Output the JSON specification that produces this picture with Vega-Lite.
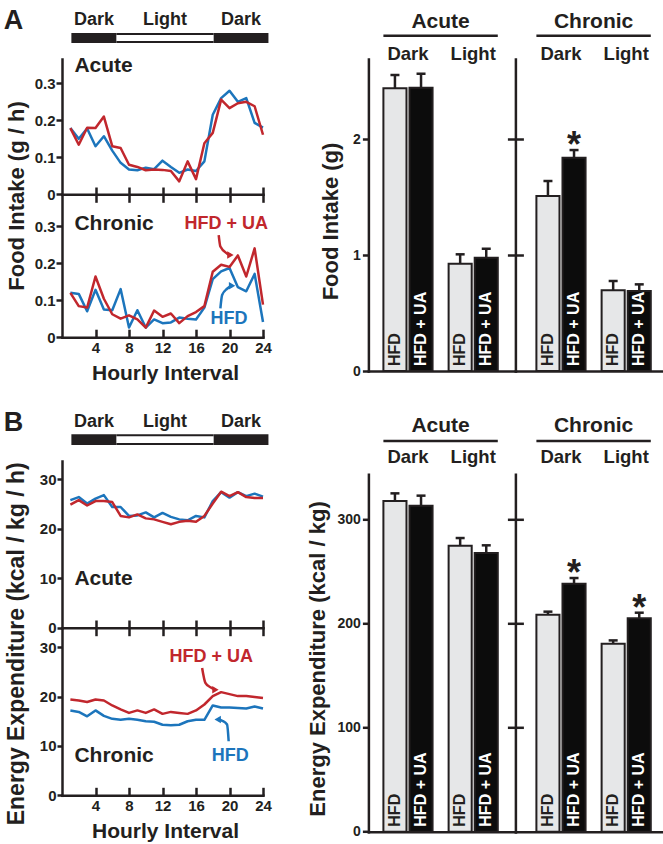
{
"$schema": "https://vega.github.io/schema/vega-lite/v6.json",
"background": "white",
"padding": {"left": 3, "top": 6, "right": 0, "bottom": 0},
"config": {
  "font": "Liberation Sans",
  "view": {"stroke": null},
  "axis": {"grid": false, "domainColor": "#231f20", "domainWidth": 2.5, "domainCap": "square", "tickColor": "#231f20", "tickWidth": 2.5, "labelColor": "#231f20", "labelFont": "Liberation Sans", "labelFontWeight": "bold", "labelFontSize": 15, "titleColor": "#231f20", "titleFont": "Liberation Sans", "titleFontWeight": "bold", "labelOverlap": false, "labelFlush": false},
  "text": {"font": "Liberation Sans", "fontWeight": "bold", "color": "#231f20"}
},
"datasets": {
  "strip": [
    {"phase": "Dark", "start": 1.12, "end": 6.5},
    {"phase": "Light", "start": 6.5, "end": 18.1},
    {"phase": "Dark", "start": 18.1, "end": 24.65}
  ],
  "arrows": [
    {"panel": "food", "group": "HFD + UA", "hour": 18.71, "value": 0.276, "tip": false},
    {"panel": "food", "group": "HFD + UA", "hour": 18.91, "value": 0.245, "tip": false},
    {"panel": "food", "group": "HFD + UA", "hour": 19.71, "value": 0.226, "tip": false},
    {"panel": "food", "group": "HFD + UA", "hour": 20.11, "value": 0.222, "tip": true},
    {"panel": "food", "group": "HFD", "hour": 18.91, "value": 0.078, "tip": false},
    {"panel": "food", "group": "HFD", "hour": 19.12, "value": 0.114, "tip": false},
    {"panel": "food", "group": "HFD", "hour": 19.71, "value": 0.131, "tip": false},
    {"panel": "food", "group": "HFD", "hour": 20.31, "value": 0.139, "tip": true},
    {"panel": "ee", "group": "HFD + UA", "hour": 16.73, "value": 25.8, "tip": false},
    {"panel": "ee", "group": "HFD + UA", "hour": 17.12, "value": 22.8, "tip": false},
    {"panel": "ee", "group": "HFD + UA", "hour": 17.72, "value": 21.9, "tip": false},
    {"panel": "ee", "group": "HFD + UA", "hour": 18.32, "value": 21.4, "tip": true},
    {"panel": "ee", "group": "HFD", "hour": 18.59, "value": 15.35, "tip": true},
    {"panel": "ee", "group": "HFD", "hour": 19.15, "value": 15.1, "tip": false},
    {"panel": "ee", "group": "HFD", "hour": 19.71, "value": 14.34, "tip": false},
    {"panel": "ee", "group": "HFD", "hour": 19.9, "value": 10.95, "tip": false}
  ],
  "bars": [
    {"metric": "food", "cond": "Acute", "period": "Dark", "group": "HFD", "mean": 2.437, "upper": 2.552, "sig": ""},
    {"metric": "food", "cond": "Acute", "period": "Dark", "group": "HFD + UA", "mean": 2.443, "upper": 2.563, "sig": ""},
    {"metric": "food", "cond": "Acute", "period": "Light", "group": "HFD", "mean": 0.925, "upper": 1.006, "sig": ""},
    {"metric": "food", "cond": "Acute", "period": "Light", "group": "HFD + UA", "mean": 0.977, "upper": 1.054, "sig": ""},
    {"metric": "food", "cond": "Chronic", "period": "Dark", "group": "HFD", "mean": 1.509, "upper": 1.638, "sig": ""},
    {"metric": "food", "cond": "Chronic", "period": "Dark", "group": "HFD + UA", "mean": 1.839, "upper": 1.905, "sig": "*"},
    {"metric": "food", "cond": "Chronic", "period": "Light", "group": "HFD", "mean": 0.696, "upper": 0.776, "sig": ""},
    {"metric": "food", "cond": "Chronic", "period": "Light", "group": "HFD + UA", "mean": 0.69, "upper": 0.747, "sig": ""},
    {"metric": "ee", "cond": "Acute", "period": "Dark", "group": "HFD", "mean": 317.5, "upper": 324.9, "sig": ""},
    {"metric": "ee", "cond": "Acute", "period": "Dark", "group": "HFD + UA", "mean": 313.1, "upper": 322.7, "sig": ""},
    {"metric": "ee", "cond": "Acute", "period": "Light", "group": "HFD", "mean": 274.6, "upper": 282.0, "sig": ""},
    {"metric": "ee", "cond": "Acute", "period": "Light", "group": "HFD + UA", "mean": 267.6, "upper": 275.0, "sig": ""},
    {"metric": "ee", "cond": "Chronic", "period": "Dark", "group": "HFD", "mean": 208.4, "upper": 211.3, "sig": ""},
    {"metric": "ee", "cond": "Chronic", "period": "Dark", "group": "HFD + UA", "mean": 238.2, "upper": 243.6, "sig": "*"},
    {"metric": "ee", "cond": "Chronic", "period": "Light", "group": "HFD", "mean": 180.5, "upper": 183.7, "sig": ""},
    {"metric": "ee", "cond": "Chronic", "period": "Light", "group": "HFD + UA", "mean": 204.9, "upper": 210.3, "sig": "*"}
  ],
  "lines": [
    {"metric":"food","cond":"Acute","group":"HFD","hour":1,"value":0.179},
    {"metric":"food","cond":"Acute","group":"HFD","hour":2,"value":0.15},
    {"metric":"food","cond":"Acute","group":"HFD","hour":3,"value":0.178},
    {"metric":"food","cond":"Acute","group":"HFD","hour":4,"value":0.13},
    {"metric":"food","cond":"Acute","group":"HFD","hour":5,"value":0.157},
    {"metric":"food","cond":"Acute","group":"HFD","hour":6,"value":0.118},
    {"metric":"food","cond":"Acute","group":"HFD","hour":7,"value":0.085},
    {"metric":"food","cond":"Acute","group":"HFD","hour":8,"value":0.067},
    {"metric":"food","cond":"Acute","group":"HFD","hour":9,"value":0.065},
    {"metric":"food","cond":"Acute","group":"HFD","hour":10,"value":0.072},
    {"metric":"food","cond":"Acute","group":"HFD","hour":11,"value":0.068},
    {"metric":"food","cond":"Acute","group":"HFD","hour":12,"value":0.091},
    {"metric":"food","cond":"Acute","group":"HFD","hour":13,"value":0.074},
    {"metric":"food","cond":"Acute","group":"HFD","hour":14,"value":0.058},
    {"metric":"food","cond":"Acute","group":"HFD","hour":15,"value":0.067},
    {"metric":"food","cond":"Acute","group":"HFD","hour":16,"value":0.063},
    {"metric":"food","cond":"Acute","group":"HFD","hour":17,"value":0.089},
    {"metric":"food","cond":"Acute","group":"HFD","hour":18,"value":0.215},
    {"metric":"food","cond":"Acute","group":"HFD","hour":19,"value":0.26},
    {"metric":"food","cond":"Acute","group":"HFD","hour":20,"value":0.28},
    {"metric":"food","cond":"Acute","group":"HFD","hour":21,"value":0.25},
    {"metric":"food","cond":"Acute","group":"HFD","hour":22,"value":0.26},
    {"metric":"food","cond":"Acute","group":"HFD","hour":23,"value":0.193},
    {"metric":"food","cond":"Acute","group":"HFD","hour":24,"value":0.18},
    {"metric":"food","cond":"Acute","group":"HFD + UA","hour":1,"value":0.179},
    {"metric":"food","cond":"Acute","group":"HFD + UA","hour":2,"value":0.134},
    {"metric":"food","cond":"Acute","group":"HFD + UA","hour":3,"value":0.18},
    {"metric":"food","cond":"Acute","group":"HFD + UA","hour":4,"value":0.179},
    {"metric":"food","cond":"Acute","group":"HFD + UA","hour":5,"value":0.21},
    {"metric":"food","cond":"Acute","group":"HFD + UA","hour":6,"value":0.13},
    {"metric":"food","cond":"Acute","group":"HFD + UA","hour":7,"value":0.125},
    {"metric":"food","cond":"Acute","group":"HFD + UA","hour":8,"value":0.08},
    {"metric":"food","cond":"Acute","group":"HFD + UA","hour":9,"value":0.074},
    {"metric":"food","cond":"Acute","group":"HFD + UA","hour":10,"value":0.065},
    {"metric":"food","cond":"Acute","group":"HFD + UA","hour":11,"value":0.067},
    {"metric":"food","cond":"Acute","group":"HFD + UA","hour":12,"value":0.066},
    {"metric":"food","cond":"Acute","group":"HFD + UA","hour":13,"value":0.063},
    {"metric":"food","cond":"Acute","group":"HFD + UA","hour":14,"value":0.035},
    {"metric":"food","cond":"Acute","group":"HFD + UA","hour":15,"value":0.089},
    {"metric":"food","cond":"Acute","group":"HFD + UA","hour":16,"value":0.041},
    {"metric":"food","cond":"Acute","group":"HFD + UA","hour":17,"value":0.138},
    {"metric":"food","cond":"Acute","group":"HFD + UA","hour":18,"value":0.166},
    {"metric":"food","cond":"Acute","group":"HFD + UA","hour":19,"value":0.256},
    {"metric":"food","cond":"Acute","group":"HFD + UA","hour":20,"value":0.233},
    {"metric":"food","cond":"Acute","group":"HFD + UA","hour":21,"value":0.246},
    {"metric":"food","cond":"Acute","group":"HFD + UA","hour":22,"value":0.25},
    {"metric":"food","cond":"Acute","group":"HFD + UA","hour":23,"value":0.238},
    {"metric":"food","cond":"Acute","group":"HFD + UA","hour":24,"value":0.161},
    {"metric":"food","cond":"Chronic","group":"HFD","hour":1,"value":0.12},
    {"metric":"food","cond":"Chronic","group":"HFD","hour":2,"value":0.117},
    {"metric":"food","cond":"Chronic","group":"HFD","hour":3,"value":0.07},
    {"metric":"food","cond":"Chronic","group":"HFD","hour":4,"value":0.128},
    {"metric":"food","cond":"Chronic","group":"HFD","hour":5,"value":0.075},
    {"metric":"food","cond":"Chronic","group":"HFD","hour":6,"value":0.073},
    {"metric":"food","cond":"Chronic","group":"HFD","hour":7,"value":0.13},
    {"metric":"food","cond":"Chronic","group":"HFD","hour":8,"value":0.026},
    {"metric":"food","cond":"Chronic","group":"HFD","hour":9,"value":0.073},
    {"metric":"food","cond":"Chronic","group":"HFD","hour":10,"value":0.026},
    {"metric":"food","cond":"Chronic","group":"HFD","hour":11,"value":0.048},
    {"metric":"food","cond":"Chronic","group":"HFD","hour":12,"value":0.038},
    {"metric":"food","cond":"Chronic","group":"HFD","hour":13,"value":0.04},
    {"metric":"food","cond":"Chronic","group":"HFD","hour":14,"value":0.053},
    {"metric":"food","cond":"Chronic","group":"HFD","hour":15,"value":0.05},
    {"metric":"food","cond":"Chronic","group":"HFD","hour":16,"value":0.048},
    {"metric":"food","cond":"Chronic","group":"HFD","hour":17,"value":0.08},
    {"metric":"food","cond":"Chronic","group":"HFD","hour":18,"value":0.157},
    {"metric":"food","cond":"Chronic","group":"HFD","hour":19,"value":0.178},
    {"metric":"food","cond":"Chronic","group":"HFD","hour":20,"value":0.187},
    {"metric":"food","cond":"Chronic","group":"HFD","hour":21,"value":0.135},
    {"metric":"food","cond":"Chronic","group":"HFD","hour":22,"value":0.124},
    {"metric":"food","cond":"Chronic","group":"HFD","hour":23,"value":0.171},
    {"metric":"food","cond":"Chronic","group":"HFD","hour":24,"value":0.041},
    {"metric":"food","cond":"Chronic","group":"HFD + UA","hour":1,"value":0.12},
    {"metric":"food","cond":"Chronic","group":"HFD + UA","hour":2,"value":0.084},
    {"metric":"food","cond":"Chronic","group":"HFD + UA","hour":3,"value":0.08},
    {"metric":"food","cond":"Chronic","group":"HFD + UA","hour":4,"value":0.164},
    {"metric":"food","cond":"Chronic","group":"HFD + UA","hour":5,"value":0.104},
    {"metric":"food","cond":"Chronic","group":"HFD + UA","hour":6,"value":0.062},
    {"metric":"food","cond":"Chronic","group":"HFD + UA","hour":7,"value":0.05},
    {"metric":"food","cond":"Chronic","group":"HFD + UA","hour":8,"value":0.059},
    {"metric":"food","cond":"Chronic","group":"HFD + UA","hour":9,"value":0.048},
    {"metric":"food","cond":"Chronic","group":"HFD + UA","hour":10,"value":0.026},
    {"metric":"food","cond":"Chronic","group":"HFD + UA","hour":11,"value":0.072},
    {"metric":"food","cond":"Chronic","group":"HFD + UA","hour":12,"value":0.055},
    {"metric":"food","cond":"Chronic","group":"HFD + UA","hour":13,"value":0.064},
    {"metric":"food","cond":"Chronic","group":"HFD + UA","hour":14,"value":0.038},
    {"metric":"food","cond":"Chronic","group":"HFD + UA","hour":15,"value":0.057},
    {"metric":"food","cond":"Chronic","group":"HFD + UA","hour":16,"value":0.068},
    {"metric":"food","cond":"Chronic","group":"HFD + UA","hour":17,"value":0.084},
    {"metric":"food","cond":"Chronic","group":"HFD + UA","hour":18,"value":0.177},
    {"metric":"food","cond":"Chronic","group":"HFD + UA","hour":19,"value":0.196},
    {"metric":"food","cond":"Chronic","group":"HFD + UA","hour":20,"value":0.19},
    {"metric":"food","cond":"Chronic","group":"HFD + UA","hour":21,"value":0.221},
    {"metric":"food","cond":"Chronic","group":"HFD + UA","hour":22,"value":0.164},
    {"metric":"food","cond":"Chronic","group":"HFD + UA","hour":23,"value":0.24},
    {"metric":"food","cond":"Chronic","group":"HFD + UA","hour":24,"value":0.088},
    {"metric":"ee","cond":"Acute","group":"HFD","hour":1,"value":25.8},
    {"metric":"ee","cond":"Acute","group":"HFD","hour":2,"value":26.4},
    {"metric":"ee","cond":"Acute","group":"HFD","hour":3,"value":25.1},
    {"metric":"ee","cond":"Acute","group":"HFD","hour":4,"value":26.1},
    {"metric":"ee","cond":"Acute","group":"HFD","hour":5,"value":26.8},
    {"metric":"ee","cond":"Acute","group":"HFD","hour":6,"value":24.4},
    {"metric":"ee","cond":"Acute","group":"HFD","hour":7,"value":24.4},
    {"metric":"ee","cond":"Acute","group":"HFD","hour":8,"value":22.6},
    {"metric":"ee","cond":"Acute","group":"HFD","hour":9,"value":22.7},
    {"metric":"ee","cond":"Acute","group":"HFD","hour":10,"value":23.3},
    {"metric":"ee","cond":"Acute","group":"HFD","hour":11,"value":22.3},
    {"metric":"ee","cond":"Acute","group":"HFD","hour":12,"value":23.2},
    {"metric":"ee","cond":"Acute","group":"HFD","hour":13,"value":22.4},
    {"metric":"ee","cond":"Acute","group":"HFD","hour":14,"value":21.9},
    {"metric":"ee","cond":"Acute","group":"HFD","hour":15,"value":21.7},
    {"metric":"ee","cond":"Acute","group":"HFD","hour":16,"value":22.6},
    {"metric":"ee","cond":"Acute","group":"HFD","hour":17,"value":22.3},
    {"metric":"ee","cond":"Acute","group":"HFD","hour":18,"value":25.6},
    {"metric":"ee","cond":"Acute","group":"HFD","hour":19,"value":27.4},
    {"metric":"ee","cond":"Acute","group":"HFD","hour":20,"value":26.3},
    {"metric":"ee","cond":"Acute","group":"HFD","hour":21,"value":27.4},
    {"metric":"ee","cond":"Acute","group":"HFD","hour":22,"value":26.6},
    {"metric":"ee","cond":"Acute","group":"HFD","hour":23,"value":27.1},
    {"metric":"ee","cond":"Acute","group":"HFD","hour":24,"value":26.5},
    {"metric":"ee","cond":"Acute","group":"HFD + UA","hour":1,"value":24.9},
    {"metric":"ee","cond":"Acute","group":"HFD + UA","hour":2,"value":25.8},
    {"metric":"ee","cond":"Acute","group":"HFD + UA","hour":3,"value":24.7},
    {"metric":"ee","cond":"Acute","group":"HFD + UA","hour":4,"value":25.6},
    {"metric":"ee","cond":"Acute","group":"HFD + UA","hour":5,"value":25.6},
    {"metric":"ee","cond":"Acute","group":"HFD + UA","hour":6,"value":25.4},
    {"metric":"ee","cond":"Acute","group":"HFD + UA","hour":7,"value":22.6},
    {"metric":"ee","cond":"Acute","group":"HFD + UA","hour":8,"value":22.3},
    {"metric":"ee","cond":"Acute","group":"HFD + UA","hour":9,"value":22.9},
    {"metric":"ee","cond":"Acute","group":"HFD + UA","hour":10,"value":22.1},
    {"metric":"ee","cond":"Acute","group":"HFD + UA","hour":11,"value":21.9},
    {"metric":"ee","cond":"Acute","group":"HFD + UA","hour":12,"value":21.4},
    {"metric":"ee","cond":"Acute","group":"HFD + UA","hour":13,"value":20.9},
    {"metric":"ee","cond":"Acute","group":"HFD + UA","hour":14,"value":21.4},
    {"metric":"ee","cond":"Acute","group":"HFD + UA","hour":15,"value":21.6},
    {"metric":"ee","cond":"Acute","group":"HFD + UA","hour":16,"value":21.4},
    {"metric":"ee","cond":"Acute","group":"HFD + UA","hour":17,"value":22.6},
    {"metric":"ee","cond":"Acute","group":"HFD + UA","hour":18,"value":25.1},
    {"metric":"ee","cond":"Acute","group":"HFD + UA","hour":19,"value":27.5},
    {"metric":"ee","cond":"Acute","group":"HFD + UA","hour":20,"value":26.6},
    {"metric":"ee","cond":"Acute","group":"HFD + UA","hour":21,"value":27.4},
    {"metric":"ee","cond":"Acute","group":"HFD + UA","hour":22,"value":26.4},
    {"metric":"ee","cond":"Acute","group":"HFD + UA","hour":23,"value":26.2},
    {"metric":"ee","cond":"Acute","group":"HFD + UA","hour":24,"value":26.2},
    {"metric":"ee","cond":"Chronic","group":"HFD","hour":1,"value":17.2},
    {"metric":"ee","cond":"Chronic","group":"HFD","hour":2,"value":16.9},
    {"metric":"ee","cond":"Chronic","group":"HFD","hour":3,"value":16.0},
    {"metric":"ee","cond":"Chronic","group":"HFD","hour":4,"value":17.2},
    {"metric":"ee","cond":"Chronic","group":"HFD","hour":5,"value":16.1},
    {"metric":"ee","cond":"Chronic","group":"HFD","hour":6,"value":15.5},
    {"metric":"ee","cond":"Chronic","group":"HFD","hour":7,"value":15.3},
    {"metric":"ee","cond":"Chronic","group":"HFD","hour":8,"value":15.5},
    {"metric":"ee","cond":"Chronic","group":"HFD","hour":9,"value":15.3},
    {"metric":"ee","cond":"Chronic","group":"HFD","hour":10,"value":15.0},
    {"metric":"ee","cond":"Chronic","group":"HFD","hour":11,"value":14.9},
    {"metric":"ee","cond":"Chronic","group":"HFD","hour":12,"value":14.3},
    {"metric":"ee","cond":"Chronic","group":"HFD","hour":13,"value":14.2},
    {"metric":"ee","cond":"Chronic","group":"HFD","hour":14,"value":14.3},
    {"metric":"ee","cond":"Chronic","group":"HFD","hour":15,"value":15.0},
    {"metric":"ee","cond":"Chronic","group":"HFD","hour":16,"value":15.3},
    {"metric":"ee","cond":"Chronic","group":"HFD","hour":17,"value":15.3},
    {"metric":"ee","cond":"Chronic","group":"HFD","hour":18,"value":18.2},
    {"metric":"ee","cond":"Chronic","group":"HFD","hour":19,"value":17.8},
    {"metric":"ee","cond":"Chronic","group":"HFD","hour":20,"value":17.8},
    {"metric":"ee","cond":"Chronic","group":"HFD","hour":21,"value":17.7},
    {"metric":"ee","cond":"Chronic","group":"HFD","hour":22,"value":17.6},
    {"metric":"ee","cond":"Chronic","group":"HFD","hour":23,"value":18.0},
    {"metric":"ee","cond":"Chronic","group":"HFD","hour":24,"value":17.6},
    {"metric":"ee","cond":"Chronic","group":"HFD + UA","hour":1,"value":19.4},
    {"metric":"ee","cond":"Chronic","group":"HFD + UA","hour":2,"value":19.2},
    {"metric":"ee","cond":"Chronic","group":"HFD + UA","hour":3,"value":18.9},
    {"metric":"ee","cond":"Chronic","group":"HFD + UA","hour":4,"value":19.4},
    {"metric":"ee","cond":"Chronic","group":"HFD + UA","hour":5,"value":19.2},
    {"metric":"ee","cond":"Chronic","group":"HFD + UA","hour":6,"value":18.2},
    {"metric":"ee","cond":"Chronic","group":"HFD + UA","hour":7,"value":17.4},
    {"metric":"ee","cond":"Chronic","group":"HFD + UA","hour":8,"value":16.7},
    {"metric":"ee","cond":"Chronic","group":"HFD + UA","hour":9,"value":17.2},
    {"metric":"ee","cond":"Chronic","group":"HFD + UA","hour":10,"value":16.7},
    {"metric":"ee","cond":"Chronic","group":"HFD + UA","hour":11,"value":17.4},
    {"metric":"ee","cond":"Chronic","group":"HFD + UA","hour":12,"value":16.5},
    {"metric":"ee","cond":"Chronic","group":"HFD + UA","hour":13,"value":16.9},
    {"metric":"ee","cond":"Chronic","group":"HFD + UA","hour":14,"value":16.7},
    {"metric":"ee","cond":"Chronic","group":"HFD + UA","hour":15,"value":16.5},
    {"metric":"ee","cond":"Chronic","group":"HFD + UA","hour":16,"value":17.2},
    {"metric":"ee","cond":"Chronic","group":"HFD + UA","hour":17,"value":18.4},
    {"metric":"ee","cond":"Chronic","group":"HFD + UA","hour":18,"value":20.1},
    {"metric":"ee","cond":"Chronic","group":"HFD + UA","hour":19,"value":20.9},
    {"metric":"ee","cond":"Chronic","group":"HFD + UA","hour":20,"value":20.5},
    {"metric":"ee","cond":"Chronic","group":"HFD + UA","hour":21,"value":20.1},
    {"metric":"ee","cond":"Chronic","group":"HFD + UA","hour":22,"value":20.1},
    {"metric":"ee","cond":"Chronic","group":"HFD + UA","hour":23,"value":19.9},
    {"metric":"ee","cond":"Chronic","group":"HFD + UA","hour":24,"value":19.7}
  ]
},
"hconcat": [
  {"vconcat": [
    {"vconcat": [
      {"width": 201, "height": 135.3,
       "layer": [
        {"data": {"name": "strip"}, "mark": {"type": "rect", "fill": "#231f20"},
         "encoding": {"x": {"field": "start", "type": "quantitative", "title": null, "scale": {"domain": [0, 24], "nice": false, "zero": false}}, "x2": {"field": "end"},
                      "y": {"datum": 0.409, "type": "quantitative", "scale": {"domain": [0, 0.3657], "nice": false, "zero": false}}, "y2": {"datum": 0.436}}},
        {"data": {"name": "strip"}, "transform": [{"filter": "datum.phase==='Light'"}], "mark": {"type": "rect", "fill": "white"},
         "encoding": {"x": {"field": "start", "type": "quantitative", "title": null, "scale": {"domain": [0, 24], "nice": false, "zero": false}}, "x2": {"field": "end"},
                      "y": {"datum": 0.4144, "type": "quantitative", "scale": {"domain": [0, 0.3657], "nice": false, "zero": false}}, "y2": {"datum": 0.4306}}},
        {"data": {"name": "strip"}, "transform": [{"calculate": "(datum.start+datum.end)/2", "as": "mid"}], "mark": {"type": "text", "fontSize": 18, "baseline": "middle"},
         "encoding": {"x": {"field": "mid", "type": "quantitative", "title": null, "scale": {"domain": [0, 24], "nice": false, "zero": false}},
                      "y": {"datum": 0.472, "type": "quantitative", "scale": {"domain": [0, 0.3657], "nice": false, "zero": false}}, "text": {"field": "phase"}}},
        {"data": {"name": "lines"}, "transform": [{"filter": "datum.metric==='food' && datum.cond==='Acute'"}], "mark": {"type": "line", "strokeWidth": 2.5, "strokeJoin": "round"},
         "encoding": {"x": {"field": "hour", "type": "quantitative", "title": null, "scale": {"domain": [0, 24], "nice": false, "zero": false}, "axis": {"values": [4, 8, 12, 16, 20, 24], "labels": false, "tickSize": 8, "title": null}},
                      "y": {"field": "value", "type": "quantitative", "title": null, "scale": {"domain": [0, 0.3657], "nice": false, "zero": false}, "axis": {"values": [0, 0.1, 0.2, 0.3], "format": "~g", "tickSize": 6, "labelPadding": 1, "title": null}},
                      "color": {"field": "group", "type": "nominal", "scale": {"domain": ["HFD", "HFD + UA"], "range": ["#1c75bc", "#c1272d"]}, "legend": null}}},
        {"data": {"values": [{}]}, "mark": {"type": "text", "text": "Acute", "fontSize": 21, "align": "left", "baseline": "middle"},
         "encoding": {"x": {"datum": 1.48, "type": "quantitative", "scale": {"domain": [0, 24], "nice": false, "zero": false}}, "y": {"datum": 0.348, "type": "quantitative", "scale": {"domain": [0, 0.3657], "nice": false, "zero": false}}}},
        {"data": {"values": [{}]}, "mark": {"type": "text", "text": "A", "fontSize": 27, "align": "center", "baseline": "middle"},
         "encoding": {"x": {"datum": -5.78, "type": "quantitative", "scale": {"domain": [0, 24], "nice": false, "zero": false}}, "y": {"datum": 0.469, "type": "quantitative", "scale": {"domain": [0, 0.3657], "nice": false, "zero": false}}}}
       ]},
      {"width": 201, "height": 142.2,
       "resolve": {"axis": {"x": "independent"}},
       "layer": [
        {"data": {"name": "lines"}, "transform": [{"filter": "datum.metric==='food' && datum.cond==='Chronic'"}], "mark": {"type": "line", "strokeWidth": 2.5, "strokeJoin": "round"},
         "encoding": {"x": {"field": "hour", "type": "quantitative", "scale": {"domain": [0, 24], "nice": false, "zero": false}, "axis": {"orient": "bottom", "values": [4, 8, 12, 16, 20, 24], "tickSize": -8, "labelPadding": 11.5, "title": "Hourly Interval", "titleX": 103, "titleY": 36.5, "titleBaseline": "middle", "titleAlign": "center", "titleFontSize": 21}},
                      "y": {"field": "value", "type": "quantitative", "title": "Food Intake (g / h)", "scale": {"domain": [0, 0.3843], "nice": false, "zero": false}, "axis": {"values": [0, 0.1, 0.2, 0.3], "format": "~g", "tickSize": 6, "labelPadding": 1, "title": "Food Intake (g / h)", "titleX": -45.3, "titleY": 0.5, "titleAngle": -90, "titleAlign": "center", "titleBaseline": "middle", "titleFontSize": 22}},
                      "color": {"field": "group", "type": "nominal", "scale": {"domain": ["HFD", "HFD + UA"], "range": ["#1c75bc", "#c1272d"]}, "legend": null}}},
        {"data": {"values": [{}]}, "mark": {"type": "text", "text": "Chronic", "fontSize": 21, "align": "left", "baseline": "middle"},
         "encoding": {"x": {"datum": 1.48, "type": "quantitative", "scale": {"domain": [0, 24], "nice": false, "zero": false}, "axis": {"orient": "top", "values": [4, 8, 12, 16, 20, 24], "labels": false, "domain": false, "tickSize": 8, "title": null}},
                      "y": {"datum": 0.307, "type": "quantitative", "scale": {"domain": [0, 0.3843], "nice": false, "zero": false}}}},
        {"data": {"values": [{}]}, "mark": {"type": "text", "text": "HFD + UA", "fontSize": 18, "align": "center", "baseline": "middle", "color": "#c1272d"},
         "encoding": {"x": {"datum": 19.6, "type": "quantitative", "scale": {"domain": [0, 24], "nice": false, "zero": false}, "axis": null},
                      "y": {"datum": 0.305, "type": "quantitative", "scale": {"domain": [0, 0.3843], "nice": false, "zero": false}}}},
        {"data": {"values": [{}]}, "mark": {"type": "text", "text": "HFD", "fontSize": 18, "align": "center", "baseline": "middle", "color": "#1c75bc"},
         "encoding": {"x": {"datum": 19.95, "type": "quantitative", "scale": {"domain": [0, 24], "nice": false, "zero": false}, "axis": null},
                      "y": {"datum": 0.048, "type": "quantitative", "scale": {"domain": [0, 0.3843], "nice": false, "zero": false}}}},
        {"data": {"name": "arrows"}, "transform": [{"filter": "datum.panel==='food'"}], "mark": {"type": "line", "strokeWidth": 2.5, "interpolate": "monotone"},
         "encoding": {"x": {"field": "hour", "type": "quantitative", "scale": {"domain": [0, 24], "nice": false, "zero": false}, "axis": null},
                      "y": {"field": "value", "type": "quantitative", "title": "Food Intake (g / h)", "scale": {"domain": [0, 0.3843], "nice": false, "zero": false}},
                      "color": {"field": "group", "type": "nominal", "scale": {"domain": ["HFD", "HFD + UA"], "range": ["#1c75bc", "#c1272d"]}, "legend": null}}},
        {"data": {"name": "arrows"}, "transform": [{"filter": "datum.panel==='food' && datum.tip"}], "mark": {"type": "point", "filled": true, "opacity": 1, "size": 55, "shape": "triangle-right"},
         "encoding": {"x": {"field": "hour", "type": "quantitative", "scale": {"domain": [0, 24], "nice": false, "zero": false}, "axis": null},
                      "y": {"field": "value", "type": "quantitative", "title": "Food Intake (g / h)", "scale": {"domain": [0, 0.3843], "nice": false, "zero": false}},
                      "color": {"field": "group", "type": "nominal", "scale": {"domain": ["HFD", "HFD + UA"], "range": ["#1c75bc", "#c1272d"]}, "legend": null}}}
       ]}
    ], "spacing": 0, "bounds": "flush"},
    {"vconcat": [
      {"width": 201, "height": 166.7,
       "layer": [
        {"data": {"name": "strip"}, "mark": {"type": "rect", "fill": "#231f20"},
         "encoding": {"x": {"field": "start", "type": "quantitative", "title": null, "scale": {"domain": [0, 24], "nice": false, "zero": false}}, "x2": {"field": "end"},
                      "y": {"datum": 36.93, "type": "quantitative", "scale": {"domain": [0, 33.7], "nice": false, "zero": false}}, "y2": {"datum": 39.09}}},
        {"data": {"name": "strip"}, "transform": [{"filter": "datum.phase==='Light'"}], "mark": {"type": "rect", "fill": "white"},
         "encoding": {"x": {"field": "start", "type": "quantitative", "title": null, "scale": {"domain": [0, 24], "nice": false, "zero": false}}, "x2": {"field": "end"},
                      "y": {"datum": 37.33, "type": "quantitative", "scale": {"domain": [0, 33.7], "nice": false, "zero": false}}, "y2": {"datum": 38.69}}},
        {"data": {"name": "strip"}, "transform": [{"calculate": "(datum.start+datum.end)/2", "as": "mid"}], "mark": {"type": "text", "fontSize": 18, "baseline": "middle"},
         "encoding": {"x": {"field": "mid", "type": "quantitative", "title": null, "scale": {"domain": [0, 24], "nice": false, "zero": false}},
                      "y": {"datum": 41.66, "type": "quantitative", "scale": {"domain": [0, 33.7], "nice": false, "zero": false}}, "text": {"field": "phase"}}},
        {"data": {"name": "lines"}, "transform": [{"filter": "datum.metric==='ee' && datum.cond==='Acute'"}], "mark": {"type": "line", "strokeWidth": 2.5, "strokeJoin": "round"},
         "encoding": {"x": {"field": "hour", "type": "quantitative", "title": null, "scale": {"domain": [0, 24], "nice": false, "zero": false}, "axis": {"values": [4, 8, 12, 16, 20, 24], "labels": false, "tickSize": 8, "title": null}},
                      "y": {"field": "value", "type": "quantitative", "title": null, "scale": {"domain": [0, 33.7], "nice": false, "zero": false}, "axis": {"values": [0, 10, 20, 30], "tickSize": 5, "labelPadding": 1, "title": null}},
                      "color": {"field": "group", "type": "nominal", "scale": {"domain": ["HFD", "HFD + UA"], "range": ["#1c75bc", "#c1272d"]}, "legend": null}}},
        {"data": {"values": [{}]}, "mark": {"type": "text", "text": "Acute", "fontSize": 21, "align": "left", "baseline": "middle"},
         "encoding": {"x": {"datum": 1.48, "type": "quantitative", "scale": {"domain": [0, 24], "nice": false, "zero": false}}, "y": {"datum": 9.86, "type": "quantitative", "scale": {"domain": [0, 33.7], "nice": false, "zero": false}}}},
        {"data": {"values": [{}]}, "mark": {"type": "text", "text": "B", "fontSize": 27, "align": "center", "baseline": "middle"},
         "encoding": {"x": {"datum": -5.78, "type": "quantitative", "scale": {"domain": [0, 24], "nice": false, "zero": false}}, "y": {"datum": 41.4, "type": "quantitative", "scale": {"domain": [0, 33.7], "nice": false, "zero": false}}}}
       ]},
      {"width": 201, "height": 167.3,
       "resolve": {"axis": {"x": "independent"}},
       "layer": [
        {"data": {"name": "lines"}, "transform": [{"filter": "datum.metric==='ee' && datum.cond==='Chronic'"}], "mark": {"type": "line", "strokeWidth": 2.5, "strokeJoin": "round"},
         "encoding": {"x": {"field": "hour", "type": "quantitative", "scale": {"domain": [0, 24], "nice": false, "zero": false}, "axis": {"orient": "bottom", "values": [4, 8, 12, 16, 20, 24], "tickSize": -8, "labelPadding": 11.5, "title": "Hourly Interval", "titleX": 103, "titleY": 36.5, "titleBaseline": "middle", "titleAlign": "center", "titleFontSize": 21}},
                      "y": {"field": "value", "type": "quantitative", "title": "Energy Expenditure (kcal / kg / h)", "scale": {"domain": [0, 33.9], "nice": false, "zero": false}, "axis": {"values": [0, 10, 20, 30], "tickSize": 5, "labelPadding": 1, "title": "Energy Expenditure (kcal / kg / h)", "titleX": -45.3, "titleY": 15.3, "titleAngle": -90, "titleAlign": "center", "titleBaseline": "middle", "titleFontSize": 23}},
                      "color": {"field": "group", "type": "nominal", "scale": {"domain": ["HFD", "HFD + UA"], "range": ["#1c75bc", "#c1272d"]}, "legend": null}}},
        {"data": {"values": [{}]}, "mark": {"type": "text", "text": "Chronic", "fontSize": 21, "align": "left", "baseline": "middle"},
         "encoding": {"x": {"datum": 1.48, "type": "quantitative", "scale": {"domain": [0, 24], "nice": false, "zero": false}, "axis": {"orient": "top", "values": [4, 8, 12, 16, 20, 24], "labels": false, "domain": false, "tickSize": 8, "title": null}},
                      "y": {"datum": 8.0, "type": "quantitative", "scale": {"domain": [0, 33.9], "nice": false, "zero": false}}}},
        {"data": {"values": [{}]}, "mark": {"type": "text", "text": "HFD + UA", "fontSize": 18, "align": "center", "baseline": "middle", "color": "#c1272d"},
         "encoding": {"x": {"datum": 17.82, "type": "quantitative", "scale": {"domain": [0, 24], "nice": false, "zero": false}, "axis": null},
                      "y": {"datum": 27.95, "type": "quantitative", "scale": {"domain": [0, 33.9], "nice": false, "zero": false}}}},
        {"data": {"values": [{}]}, "mark": {"type": "text", "text": "HFD", "fontSize": 18, "align": "center", "baseline": "middle", "color": "#1c75bc"},
         "encoding": {"x": {"datum": 20.1, "type": "quantitative", "scale": {"domain": [0, 24], "nice": false, "zero": false}, "axis": null},
                      "y": {"datum": 8.03, "type": "quantitative", "scale": {"domain": [0, 33.9], "nice": false, "zero": false}}}},
        {"data": {"name": "arrows"}, "transform": [{"filter": "datum.panel==='ee'"}], "mark": {"type": "line", "strokeWidth": 2.5, "interpolate": "monotone"},
         "encoding": {"x": {"field": "hour", "type": "quantitative", "scale": {"domain": [0, 24], "nice": false, "zero": false}, "axis": null},
                      "y": {"field": "value", "type": "quantitative", "title": "Energy Expenditure (kcal / kg / h)", "scale": {"domain": [0, 33.9], "nice": false, "zero": false}},
                      "color": {"field": "group", "type": "nominal", "scale": {"domain": ["HFD", "HFD + UA"], "range": ["#1c75bc", "#c1272d"]}, "legend": null}}},
        {"data": {"name": "arrows"}, "transform": [{"filter": "datum.panel==='ee' && datum.tip"}], "mark": {"type": "point", "filled": true, "opacity": 1, "size": 55},
         "encoding": {"x": {"field": "hour", "type": "quantitative", "scale": {"domain": [0, 24], "nice": false, "zero": false}, "axis": null},
                      "y": {"field": "value", "type": "quantitative", "title": "Energy Expenditure (kcal / kg / h)", "scale": {"domain": [0, 33.9], "nice": false, "zero": false}},
                      "shape": {"condition": {"test": "datum.group==='HFD'", "value": "triangle-left"}, "value": "triangle-right"},
                      "color": {"field": "group", "type": "nominal", "scale": {"domain": ["HFD", "HFD + UA"], "range": ["#1c75bc", "#c1272d"]}, "legend": null}}}
       ]}
    ], "spacing": 0, "bounds": "flush"}
  ], "spacing": 402, "bounds": "flush"},
  {"vconcat": [
    {"hconcat": [
      {"width": 147, "height": 312,
       "resolve": {"axis": {"y": "independent"}},
       "layer": [
        {"data": {"name": "bars"}, "transform": [{"filter": "datum.metric==='food' && datum.cond==='Acute'"}], "mark": {"type": "bar", "stroke": "#231f20", "strokeWidth": 2},
         "encoding": {"x": {"field": "period", "type": "nominal", "title": null, "scale": {"domain": ["Dark", "Light"], "paddingInner": 0.246, "paddingOuter": 0.25, "align": 0.46}, "axis": {"labels": false, "ticks": false, "title": null}},
                      "xOffset": {"field": "group", "type": "nominal", "scale": {"domain": ["HFD", "HFD + UA"], "paddingInner": 0.115, "paddingOuter": 0}},
                      "y": {"field": "mean", "type": "quantitative", "scale": {"domain": [0, 2.69], "nice": false, "zero": false}, "axis": {"values": [0, 1, 2], "tickSize": 6, "labelPadding": 2, "labelFontSize": 14, "title": "Food Intake (g)", "titleX": -37.7, "titleY": 162, "titleAngle": -90, "titleAlign": "center", "titleBaseline": "middle", "titleFontSize": 22}},
                      "fill": {"field": "group", "type": "nominal", "scale": {"domain": ["HFD", "HFD + UA"], "range": ["#e6e7e8", "#0c0c0c"]}, "legend": null}}},
        {"data": {"name": "bars"}, "transform": [{"filter": "datum.metric==='food' && datum.cond==='Acute'"}], "mark": {"type": "rule", "strokeWidth": 2.5, "color": "#231f20"},
         "encoding": {"x": {"field": "period", "type": "nominal", "title": null, "scale": {"domain": ["Dark", "Light"], "paddingInner": 0.246, "paddingOuter": 0.25, "align": 0.46}},
                      "xOffset": {"field": "group", "type": "nominal", "scale": {"domain": ["HFD", "HFD + UA"], "paddingInner": 0.115, "paddingOuter": 0}},
                      "y": {"field": "mean", "type": "quantitative", "scale": {"domain": [0, 2.69], "nice": false, "zero": false}, "axis": {"orient": "right", "values": [1, 2], "labels": false, "domain": false, "tickSize": 8, "title": null}},
                      "y2": {"field": "upper"}}},
        {"data": {"name": "bars"}, "transform": [{"filter": "datum.metric==='food' && datum.cond==='Acute'"}], "mark": {"type": "tick", "thickness": 2.5, "size": 9, "color": "#231f20", "opacity": 1},
         "encoding": {"x": {"field": "period", "type": "nominal", "title": null, "scale": {"domain": ["Dark", "Light"], "paddingInner": 0.246, "paddingOuter": 0.25, "align": 0.46}},
                      "xOffset": {"field": "group", "type": "nominal", "scale": {"domain": ["HFD", "HFD + UA"], "paddingInner": 0.115, "paddingOuter": 0}},
                      "y": {"field": "upper", "type": "quantitative", "scale": {"domain": [0, 2.69], "nice": false, "zero": false}, "axis": null}}},
        {"data": {"name": "bars"}, "transform": [{"filter": "datum.metric==='food' && datum.cond==='Acute'"}], "mark": {"type": "text", "angle": 270, "align": "left", "baseline": "middle", "dx": 5, "fontSize": 16},
         "encoding": {"x": {"field": "period", "type": "nominal", "title": null, "scale": {"domain": ["Dark", "Light"], "paddingInner": 0.246, "paddingOuter": 0.25, "align": 0.46}},
                      "xOffset": {"field": "group", "type": "nominal", "scale": {"domain": ["HFD", "HFD + UA"], "paddingInner": 0.115, "paddingOuter": 0}},
                      "y": {"datum": 0, "type": "quantitative", "scale": {"domain": [0, 2.69], "nice": false, "zero": false}, "axis": null},
                      "text": {"field": "group"},
                      "color": {"condition": {"test": "datum.group==='HFD'", "value": "#231f20"}, "value": "#ffffff"}}},
        {"data": {"values": [{}]}, "mark": {"type": "text", "text": "Acute", "fontSize": 21, "align": "center", "baseline": "middle"},
         "encoding": {"x": {"datum": "Dark", "type": "nominal", "bandPosition": 1.163, "scale": {"domain": ["Dark", "Light"], "paddingInner": 0.246, "paddingOuter": 0.25, "align": 0.46}},
                      "y": {"datum": 3.011, "type": "quantitative", "scale": {"domain": [0, 2.69], "nice": false, "zero": false}, "axis": null}}},
        {"data": {"values": [{}]}, "mark": {"type": "rule", "strokeWidth": 2.5, "color": "#231f20"},
         "encoding": {"x": {"datum": "Dark", "type": "nominal", "bandPosition": 0, "scale": {"domain": ["Dark", "Light"], "paddingInner": 0.246, "paddingOuter": 0.25, "align": 0.46}},
                      "x2": {"datum": "Light", "bandPosition": 1},
                      "y": {"datum": 2.89, "type": "quantitative", "scale": {"domain": [0, 2.69], "nice": false, "zero": false}, "axis": null}}},
        {"data": {"name": "bars"}, "transform": [{"filter": "datum.metric==='food' && datum.cond==='Acute' && datum.group==='HFD'"}], "mark": {"type": "text", "fontSize": 18.5, "align": "center", "baseline": "middle"},
         "encoding": {"x": {"field": "period", "type": "nominal", "title": null, "scale": {"domain": ["Dark", "Light"], "paddingInner": 0.246, "paddingOuter": 0.25, "align": 0.46}},
                      "y": {"datum": 2.734, "type": "quantitative", "scale": {"domain": [0, 2.69], "nice": false, "zero": false}, "axis": null},
                      "text": {"field": "period"}}}
       ]},
      {"width": 147, "height": 312,
       "layer": [
        {"data": {"name": "bars"}, "transform": [{"filter": "datum.metric==='food' && datum.cond==='Chronic'"}], "mark": {"type": "bar", "stroke": "#231f20", "strokeWidth": 2},
         "encoding": {"x": {"field": "period", "type": "nominal", "title": null, "scale": {"domain": ["Dark", "Light"], "paddingInner": 0.246, "paddingOuter": 0.25, "align": 0.644}, "axis": {"labels": false, "ticks": false, "title": null}},
                      "xOffset": {"field": "group", "type": "nominal", "scale": {"domain": ["HFD", "HFD + UA"], "paddingInner": 0.115, "paddingOuter": 0}},
                      "y": {"field": "mean", "type": "quantitative", "title": null, "scale": {"domain": [0, 2.69], "nice": false, "zero": false}, "axis": {"values": [1, 2], "labels": false, "tickSize": 8, "title": null}},
                      "fill": {"field": "group", "type": "nominal", "scale": {"domain": ["HFD", "HFD + UA"], "range": ["#e6e7e8", "#0c0c0c"]}, "legend": null}}},
        {"data": {"name": "bars"}, "transform": [{"filter": "datum.metric==='food' && datum.cond==='Chronic'"}], "mark": {"type": "rule", "strokeWidth": 2.5, "color": "#231f20"},
         "encoding": {"x": {"field": "period", "type": "nominal", "title": null, "scale": {"domain": ["Dark", "Light"], "paddingInner": 0.246, "paddingOuter": 0.25, "align": 0.644}},
                      "xOffset": {"field": "group", "type": "nominal", "scale": {"domain": ["HFD", "HFD + UA"], "paddingInner": 0.115, "paddingOuter": 0}},
                      "y": {"field": "mean", "type": "quantitative", "title": null, "scale": {"domain": [0, 2.69], "nice": false, "zero": false}},
                      "y2": {"field": "upper"}}},
        {"data": {"name": "bars"}, "transform": [{"filter": "datum.metric==='food' && datum.cond==='Chronic'"}], "mark": {"type": "tick", "thickness": 2.5, "size": 9, "color": "#231f20", "opacity": 1},
         "encoding": {"x": {"field": "period", "type": "nominal", "title": null, "scale": {"domain": ["Dark", "Light"], "paddingInner": 0.246, "paddingOuter": 0.25, "align": 0.644}},
                      "xOffset": {"field": "group", "type": "nominal", "scale": {"domain": ["HFD", "HFD + UA"], "paddingInner": 0.115, "paddingOuter": 0}},
                      "y": {"field": "upper", "type": "quantitative", "title": null, "scale": {"domain": [0, 2.69], "nice": false, "zero": false}}}},
        {"data": {"name": "bars"}, "transform": [{"filter": "datum.metric==='food' && datum.cond==='Chronic'"}], "mark": {"type": "text", "angle": 270, "align": "left", "baseline": "middle", "dx": 5, "fontSize": 16},
         "encoding": {"x": {"field": "period", "type": "nominal", "title": null, "scale": {"domain": ["Dark", "Light"], "paddingInner": 0.246, "paddingOuter": 0.25, "align": 0.644}},
                      "xOffset": {"field": "group", "type": "nominal", "scale": {"domain": ["HFD", "HFD + UA"], "paddingInner": 0.115, "paddingOuter": 0}},
                      "y": {"datum": 0, "type": "quantitative", "scale": {"domain": [0, 2.69], "nice": false, "zero": false}},
                      "text": {"field": "group"},
                      "color": {"condition": {"test": "datum.group==='HFD'", "value": "#231f20"}, "value": "#ffffff"}}},
        {"data": {"name": "bars"}, "transform": [{"filter": "datum.metric==='food' && datum.cond==='Chronic' && datum.sig==='*'"}], "mark": {"type": "text", "text": "*", "fontSize": 36, "baseline": "alphabetic", "align": "center", "dy": 7},
         "encoding": {"x": {"field": "period", "type": "nominal", "title": null, "scale": {"domain": ["Dark", "Light"], "paddingInner": 0.246, "paddingOuter": 0.25, "align": 0.644}},
                      "xOffset": {"field": "group", "type": "nominal", "scale": {"domain": ["HFD", "HFD + UA"], "paddingInner": 0.115, "paddingOuter": 0}},
                      "y": {"field": "upper", "type": "quantitative", "title": null, "scale": {"domain": [0, 2.69], "nice": false, "zero": false}}}},
        {"data": {"values": [{}]}, "mark": {"type": "text", "text": "Chronic", "fontSize": 21, "align": "center", "baseline": "middle"},
         "encoding": {"x": {"datum": "Dark", "type": "nominal", "bandPosition": 1.163, "scale": {"domain": ["Dark", "Light"], "paddingInner": 0.246, "paddingOuter": 0.25, "align": 0.644}},
                      "y": {"datum": 3.011, "type": "quantitative", "scale": {"domain": [0, 2.69], "nice": false, "zero": false}}}},
        {"data": {"values": [{}]}, "mark": {"type": "rule", "strokeWidth": 2.5, "color": "#231f20"},
         "encoding": {"x": {"datum": "Dark", "type": "nominal", "bandPosition": 0, "scale": {"domain": ["Dark", "Light"], "paddingInner": 0.246, "paddingOuter": 0.25, "align": 0.644}},
                      "x2": {"datum": "Light", "bandPosition": 1},
                      "y": {"datum": 2.89, "type": "quantitative", "scale": {"domain": [0, 2.69], "nice": false, "zero": false}}}},
        {"data": {"name": "bars"}, "transform": [{"filter": "datum.metric==='food' && datum.cond==='Chronic' && datum.group==='HFD'"}], "mark": {"type": "text", "fontSize": 18.5, "align": "center", "baseline": "middle"},
         "encoding": {"x": {"field": "period", "type": "nominal", "title": null, "scale": {"domain": ["Dark", "Light"], "paddingInner": 0.246, "paddingOuter": 0.25, "align": 0.644}},
                      "y": {"datum": 2.734, "type": "quantitative", "scale": {"domain": [0, 2.69], "nice": false, "zero": false}},
                      "text": {"field": "period"}}}
       ]}
    ], "spacing": 0, "bounds": "flush"},
    {"hconcat": [
      {"width": 147, "height": 357.4,
       "resolve": {"axis": {"y": "independent"}},
       "layer": [
        {"data": {"name": "bars"}, "transform": [{"filter": "datum.metric==='ee' && datum.cond==='Acute'"}], "mark": {"type": "bar", "stroke": "#231f20", "strokeWidth": 2},
         "encoding": {"x": {"field": "period", "type": "nominal", "title": null, "scale": {"domain": ["Dark", "Light"], "paddingInner": 0.246, "paddingOuter": 0.25, "align": 0.46}, "axis": {"labels": false, "ticks": false, "title": null}},
                      "xOffset": {"field": "group", "type": "nominal", "scale": {"domain": ["HFD", "HFD + UA"], "paddingInner": 0.115, "paddingOuter": 0}},
                      "y": {"field": "mean", "type": "quantitative", "scale": {"domain": [0, 343.2], "nice": false, "zero": false}, "axis": {"values": [0, 100, 200, 300], "tickSize": 6, "labelPadding": 2, "labelFontSize": 14, "title": "Energy Expenditure (kcal / kg)", "titleX": -50.7, "titleY": 184.2, "titleAngle": -90, "titleAlign": "center", "titleBaseline": "middle", "titleFontSize": 22}},
                      "fill": {"field": "group", "type": "nominal", "scale": {"domain": ["HFD", "HFD + UA"], "range": ["#e6e7e8", "#0c0c0c"]}, "legend": null}}},
        {"data": {"name": "bars"}, "transform": [{"filter": "datum.metric==='ee' && datum.cond==='Acute'"}], "mark": {"type": "rule", "strokeWidth": 2.5, "color": "#231f20"},
         "encoding": {"x": {"field": "period", "type": "nominal", "title": null, "scale": {"domain": ["Dark", "Light"], "paddingInner": 0.246, "paddingOuter": 0.25, "align": 0.46}},
                      "xOffset": {"field": "group", "type": "nominal", "scale": {"domain": ["HFD", "HFD + UA"], "paddingInner": 0.115, "paddingOuter": 0}},
                      "y": {"field": "mean", "type": "quantitative", "scale": {"domain": [0, 343.2], "nice": false, "zero": false}, "axis": {"orient": "right", "values": [100, 200, 300], "labels": false, "domain": false, "tickSize": 8, "title": null}},
                      "y2": {"field": "upper"}}},
        {"data": {"name": "bars"}, "transform": [{"filter": "datum.metric==='ee' && datum.cond==='Acute'"}], "mark": {"type": "tick", "thickness": 2.5, "size": 9, "color": "#231f20", "opacity": 1},
         "encoding": {"x": {"field": "period", "type": "nominal", "title": null, "scale": {"domain": ["Dark", "Light"], "paddingInner": 0.246, "paddingOuter": 0.25, "align": 0.46}},
                      "xOffset": {"field": "group", "type": "nominal", "scale": {"domain": ["HFD", "HFD + UA"], "paddingInner": 0.115, "paddingOuter": 0}},
                      "y": {"field": "upper", "type": "quantitative", "scale": {"domain": [0, 343.2], "nice": false, "zero": false}, "axis": null}}},
        {"data": {"name": "bars"}, "transform": [{"filter": "datum.metric==='ee' && datum.cond==='Acute'"}], "mark": {"type": "text", "angle": 270, "align": "left", "baseline": "middle", "dx": 5, "fontSize": 16},
         "encoding": {"x": {"field": "period", "type": "nominal", "title": null, "scale": {"domain": ["Dark", "Light"], "paddingInner": 0.246, "paddingOuter": 0.25, "align": 0.46}},
                      "xOffset": {"field": "group", "type": "nominal", "scale": {"domain": ["HFD", "HFD + UA"], "paddingInner": 0.115, "paddingOuter": 0}},
                      "y": {"datum": 0, "type": "quantitative", "scale": {"domain": [0, 343.2], "nice": false, "zero": false}, "axis": null},
                      "text": {"field": "group"},
                      "color": {"condition": {"test": "datum.group==='HFD'", "value": "#231f20"}, "value": "#ffffff"}}},
        {"data": {"values": [{}]}, "mark": {"type": "text", "text": "Acute", "fontSize": 21, "align": "center", "baseline": "middle"},
         "encoding": {"x": {"datum": "Dark", "type": "nominal", "bandPosition": 1.163, "scale": {"domain": ["Dark", "Light"], "paddingInner": 0.246, "paddingOuter": 0.25, "align": 0.46}},
                      "y": {"datum": 389.9, "type": "quantitative", "scale": {"domain": [0, 343.2], "nice": false, "zero": false}, "axis": null}}},
        {"data": {"values": [{}]}, "mark": {"type": "rule", "strokeWidth": 2.5, "color": "#231f20"},
         "encoding": {"x": {"datum": "Dark", "type": "nominal", "bandPosition": 0, "scale": {"domain": ["Dark", "Light"], "paddingInner": 0.246, "paddingOuter": 0.25, "align": 0.46}},
                      "x2": {"datum": "Light", "bandPosition": 1},
                      "y": {"datum": 375.2, "type": "quantitative", "scale": {"domain": [0, 343.2], "nice": false, "zero": false}, "axis": null}}},
        {"data": {"name": "bars"}, "transform": [{"filter": "datum.metric==='ee' && datum.cond==='Acute' && datum.group==='HFD'"}], "mark": {"type": "text", "fontSize": 18.5, "align": "center", "baseline": "middle"},
         "encoding": {"x": {"field": "period", "type": "nominal", "title": null, "scale": {"domain": ["Dark", "Light"], "paddingInner": 0.246, "paddingOuter": 0.25, "align": 0.46}},
                      "y": {"datum": 359.8, "type": "quantitative", "scale": {"domain": [0, 343.2], "nice": false, "zero": false}, "axis": null},
                      "text": {"field": "period"}}}
       ]},
      {"width": 147, "height": 357.4,
       "layer": [
        {"data": {"name": "bars"}, "transform": [{"filter": "datum.metric==='ee' && datum.cond==='Chronic'"}], "mark": {"type": "bar", "stroke": "#231f20", "strokeWidth": 2},
         "encoding": {"x": {"field": "period", "type": "nominal", "title": null, "scale": {"domain": ["Dark", "Light"], "paddingInner": 0.246, "paddingOuter": 0.25, "align": 0.644}, "axis": {"labels": false, "ticks": false, "title": null}},
                      "xOffset": {"field": "group", "type": "nominal", "scale": {"domain": ["HFD", "HFD + UA"], "paddingInner": 0.115, "paddingOuter": 0}},
                      "y": {"field": "mean", "type": "quantitative", "title": null, "scale": {"domain": [0, 343.2], "nice": false, "zero": false}, "axis": {"values": [100, 200, 300], "labels": false, "tickSize": 8, "title": null}},
                      "fill": {"field": "group", "type": "nominal", "scale": {"domain": ["HFD", "HFD + UA"], "range": ["#e6e7e8", "#0c0c0c"]}, "legend": null}}},
        {"data": {"name": "bars"}, "transform": [{"filter": "datum.metric==='ee' && datum.cond==='Chronic'"}], "mark": {"type": "rule", "strokeWidth": 2.5, "color": "#231f20"},
         "encoding": {"x": {"field": "period", "type": "nominal", "title": null, "scale": {"domain": ["Dark", "Light"], "paddingInner": 0.246, "paddingOuter": 0.25, "align": 0.644}},
                      "xOffset": {"field": "group", "type": "nominal", "scale": {"domain": ["HFD", "HFD + UA"], "paddingInner": 0.115, "paddingOuter": 0}},
                      "y": {"field": "mean", "type": "quantitative", "title": null, "scale": {"domain": [0, 343.2], "nice": false, "zero": false}},
                      "y2": {"field": "upper"}}},
        {"data": {"name": "bars"}, "transform": [{"filter": "datum.metric==='ee' && datum.cond==='Chronic'"}], "mark": {"type": "tick", "thickness": 2.5, "size": 9, "color": "#231f20", "opacity": 1},
         "encoding": {"x": {"field": "period", "type": "nominal", "title": null, "scale": {"domain": ["Dark", "Light"], "paddingInner": 0.246, "paddingOuter": 0.25, "align": 0.644}},
                      "xOffset": {"field": "group", "type": "nominal", "scale": {"domain": ["HFD", "HFD + UA"], "paddingInner": 0.115, "paddingOuter": 0}},
                      "y": {"field": "upper", "type": "quantitative", "title": null, "scale": {"domain": [0, 343.2], "nice": false, "zero": false}}}},
        {"data": {"name": "bars"}, "transform": [{"filter": "datum.metric==='ee' && datum.cond==='Chronic'"}], "mark": {"type": "text", "angle": 270, "align": "left", "baseline": "middle", "dx": 5, "fontSize": 16},
         "encoding": {"x": {"field": "period", "type": "nominal", "title": null, "scale": {"domain": ["Dark", "Light"], "paddingInner": 0.246, "paddingOuter": 0.25, "align": 0.644}},
                      "xOffset": {"field": "group", "type": "nominal", "scale": {"domain": ["HFD", "HFD + UA"], "paddingInner": 0.115, "paddingOuter": 0}},
                      "y": {"datum": 0, "type": "quantitative", "scale": {"domain": [0, 343.2], "nice": false, "zero": false}},
                      "text": {"field": "group"},
                      "color": {"condition": {"test": "datum.group==='HFD'", "value": "#231f20"}, "value": "#ffffff"}}},
        {"data": {"name": "bars"}, "transform": [{"filter": "datum.metric==='ee' && datum.cond==='Chronic' && datum.sig==='*'"}], "mark": {"type": "text", "text": "*", "fontSize": 36, "baseline": "alphabetic", "align": "center", "dy": 7},
         "encoding": {"x": {"field": "period", "type": "nominal", "title": null, "scale": {"domain": ["Dark", "Light"], "paddingInner": 0.246, "paddingOuter": 0.25, "align": 0.644}},
                      "xOffset": {"field": "group", "type": "nominal", "scale": {"domain": ["HFD", "HFD + UA"], "paddingInner": 0.115, "paddingOuter": 0}},
                      "y": {"field": "upper", "type": "quantitative", "title": null, "scale": {"domain": [0, 343.2], "nice": false, "zero": false}}}},
        {"data": {"values": [{}]}, "mark": {"type": "text", "text": "Chronic", "fontSize": 21, "align": "center", "baseline": "middle"},
         "encoding": {"x": {"datum": "Dark", "type": "nominal", "bandPosition": 1.163, "scale": {"domain": ["Dark", "Light"], "paddingInner": 0.246, "paddingOuter": 0.25, "align": 0.644}},
                      "y": {"datum": 389.9, "type": "quantitative", "scale": {"domain": [0, 343.2], "nice": false, "zero": false}}}},
        {"data": {"values": [{}]}, "mark": {"type": "rule", "strokeWidth": 2.5, "color": "#231f20"},
         "encoding": {"x": {"datum": "Dark", "type": "nominal", "bandPosition": 0, "scale": {"domain": ["Dark", "Light"], "paddingInner": 0.246, "paddingOuter": 0.25, "align": 0.644}},
                      "x2": {"datum": "Light", "bandPosition": 1},
                      "y": {"datum": 375.2, "type": "quantitative", "scale": {"domain": [0, 343.2], "nice": false, "zero": false}}}},
        {"data": {"name": "bars"}, "transform": [{"filter": "datum.metric==='ee' && datum.cond==='Chronic' && datum.group==='HFD'"}], "mark": {"type": "text", "fontSize": 18.5, "align": "center", "baseline": "middle"},
         "encoding": {"x": {"field": "period", "type": "nominal", "title": null, "scale": {"domain": ["Dark", "Light"], "paddingInner": 0.246, "paddingOuter": 0.25, "align": 0.644}},
                      "y": {"datum": 359.8, "type": "quantitative", "scale": {"domain": [0, 343.2], "nice": false, "zero": false}},
                      "text": {"field": "period"}}}
       ]}
    ], "spacing": 0, "bounds": "flush"}
  ], "spacing": 415.3, "bounds": "flush"}
],
"spacing": 306.4,
"bounds": "flush"
}
